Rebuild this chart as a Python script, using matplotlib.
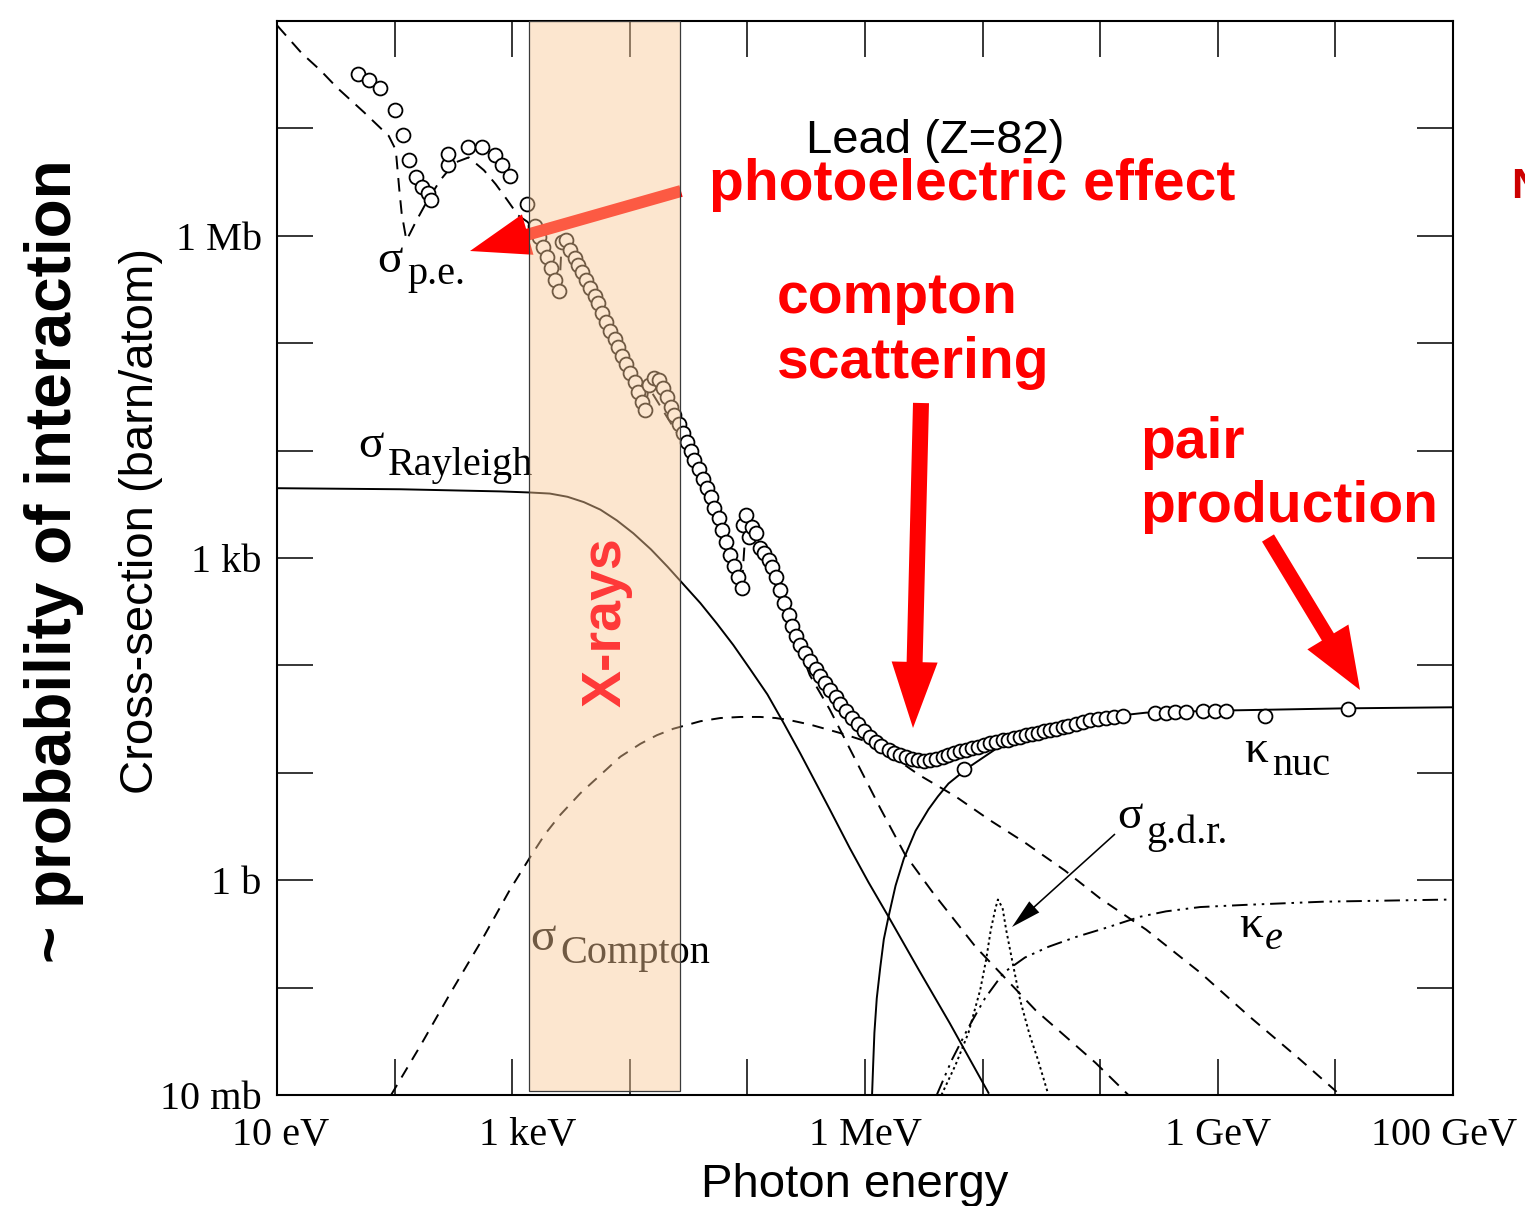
import matplotlib
matplotlib.use("Agg")
import matplotlib.pyplot as plt
import numpy as np
from matplotlib.patches import FancyArrow, Rectangle
from matplotlib.transforms import Affine2D, ScaledTranslation

# ---------------- data (log10 units) ----------------
# photon energy: log10(E / eV); cross-section: log10(sigma / barn)
total_logE = [1.69, 1.78, 1.88, 2.00, 2.07, 2.12, 2.18, 2.23, 2.28, 2.31,
              2.45, 2.45, 2.62, 2.74, 2.85, 2.91, 2.98, 3.13,
              3.19, 3.23, 3.26, 3.30, 3.33, 3.36, 3.40, 3.42, 3.46, 3.49, 3.53, 3.56,
              3.59, 3.63, 3.66, 3.70, 3.73, 3.76, 3.80, 3.83, 3.87, 3.90, 3.93, 3.97,
              4.00, 4.04, 4.07, 4.10, 4.13,
              4.16, 4.21, 4.25, 4.28, 4.32, 4.35, 4.38, 4.42, 4.45, 4.49, 4.52, 4.55,
              4.59, 4.62, 4.66, 4.69, 4.72, 4.76, 4.78, 4.82, 4.85, 4.89, 4.92, 4.95,
              4.96, 4.99, 5.01, 5.04, 5.07, 5.11, 5.14, 5.18, 5.21, 5.24,
              5.28, 5.31, 5.35, 5.38, 5.41, 5.45, 5.49, 5.53, 5.58, 5.62,
              5.66, 5.70, 5.75, 5.79, 5.84, 5.89, 5.94, 5.99, 6.04, 6.09,
              6.14, 6.20, 6.25, 6.30, 6.35, 6.40, 6.45, 6.50, 6.55, 6.60,
              6.66, 6.71, 6.76, 6.81, 6.84, 6.86, 6.91, 6.96, 7.01, 7.06,
              7.11, 7.17, 7.22, 7.27, 7.32, 7.37, 7.42, 7.47, 7.52, 7.57,
              7.62, 7.68, 7.73, 7.79, 7.85, 7.91, 7.98, 8.05, 8.12, 8.19,
              8.47, 8.56, 8.64, 8.73, 8.87, 8.98, 9.07, 9.40, 10.11]
total_logS = [7.51, 7.45, 7.38, 7.17, 6.94, 6.71, 6.55, 6.45, 6.40, 6.33,
              6.66, 6.76, 6.83, 6.83, 6.75, 6.66, 6.56, 6.30,
              6.09, 5.99, 5.90, 5.80, 5.70, 5.59, 5.49, 5.94, 5.96, 5.87, 5.79, 5.73,
              5.66, 5.59, 5.51, 5.44, 5.37, 5.28, 5.20, 5.11, 5.04, 4.96, 4.88, 4.81,
              4.72, 4.64, 4.55, 4.45, 4.38,
              4.61, 4.68, 4.66, 4.58, 4.50, 4.41, 4.33, 4.25, 4.16, 4.08, 4.00, 3.91,
              3.83, 3.74, 3.65, 3.57, 3.47, 3.37, 3.26, 3.15, 3.03, 2.93, 2.82, 2.72,
              3.31, 3.40, 3.20, 3.29, 3.23, 3.09, 3.05, 2.98, 2.92, 2.82,
              2.70, 2.58, 2.47, 2.37, 2.27, 2.19, 2.12, 2.04, 1.97, 1.90,
              1.84, 1.77, 1.71, 1.64, 1.58, 1.51, 1.45, 1.39, 1.33, 1.29,
              1.25, 1.21, 1.18, 1.17, 1.15, 1.13, 1.12, 1.11, 1.12, 1.13,
              1.15, 1.17, 1.18, 1.20, 1.04, 1.21, 1.23, 1.24, 1.26, 1.28,
              1.29, 1.31, 1.31, 1.32, 1.33, 1.35, 1.36, 1.37, 1.39, 1.40,
              1.41, 1.43, 1.44, 1.45, 1.47, 1.49, 1.50, 1.51, 1.52, 1.53,
              1.56, 1.56, 1.57, 1.57, 1.58, 1.58, 1.58, 1.53, 1.59]

pe_logE = [1.00, 1.21, 1.37, 1.51, 1.74, 1.95, 2.01, 2.04, 2.06, 2.10,
           2.13, 2.18, 2.28, 2.39, 2.51, 2.63, 2.76, 2.86, 2.96, 3.05,
           3.13, 3.19, 3.40, 3.42, 3.76, 4.13, 4.16, 4.60, 4.95, 4.99, 5.28,
           5.53, 5.70, 5.91, 6.13, 6.34, 6.58, 6.94, 7.45, 7.96, 8.24]
pe_logS = [7.96, 7.70, 7.54, 7.38, 7.15, 6.93, 6.80, 6.43, 6.21, 5.96,
           6.02, 6.13, 6.33, 6.52, 6.68, 6.73, 6.61, 6.48, 6.33, 6.19,
           6.13, 6.05, 5.47, 5.92, 5.26, 4.36, 4.59, 3.81, 2.70, 3.36, 2.65,
           1.91, 1.59, 1.14, 0.67, 0.24, -0.12, -0.62, -1.21, -1.70, -2.00]

compton_logE = [1.97, 2.22, 2.47, 2.73, 2.98, 3.15, 3.28, 3.41, 3.58, 3.75, 3.92, 4.09,
                4.23, 4.37, 4.60, 4.77, 4.94, 5.11, 5.24, 5.36, 5.53, 5.66, 5.79, 5.99,
                6.21, 6.46, 6.77, 7.06, 7.36, 7.70, 8.00, 8.39, 8.85, 9.27, 9.70, 10.01]
compton_logS = [-2.00, -1.54, -1.06, -0.58, -0.09, 0.21, 0.43, 0.61, 0.81, 0.98, 1.15, 1.27,
                 1.35, 1.41, 1.48, 1.51, 1.52, 1.52, 1.51, 1.49, 1.45, 1.41, 1.37, 1.30,
                 1.17, 0.98, 0.78, 0.56, 0.35, 0.09, -0.17, -0.46, -0.86, -1.27, -1.67, -1.97]

rayleigh_logE = [1.00, 2.05, 2.90, 3.15, 3.32, 3.47, 3.61, 3.75, 3.89, 4.03, 4.18,
                 4.32, 4.46, 4.60, 4.74, 4.88, 5.02, 5.17, 5.31, 5.45, 5.58, 5.70,
                 5.87, 6.03, 6.20, 6.46, 6.72, 7.05]
rayleigh_logS = [3.65, 3.64, 3.62, 3.61, 3.60, 3.57, 3.52, 3.45, 3.35, 3.23, 3.08,
                 2.92, 2.75, 2.58, 2.39, 2.19, 1.97, 1.73, 1.46, 1.18, 0.91, 0.66,
                 0.30, -0.02, -0.34, -0.84, -1.33, -1.98]

knuc_logE = [6.06, 6.07, 6.08, 6.10, 6.13, 6.16, 6.20, 6.26, 6.33, 6.43, 6.54, 6.62,
             6.71, 6.88, 7.11, 7.39, 7.72, 8.06, 8.39, 9.06, 10.07, 11.00]
knuc_logS = [-2.00, -1.70, -1.42, -1.10, -0.81, -0.55, -0.34, -0.05, 0.20, 0.46, 0.66, 0.78,
             0.90, 1.05, 1.22, 1.35, 1.45, 1.52, 1.56, 1.58, 1.60, 1.61]

ke_logE = [6.61, 6.74, 6.88, 7.02, 7.18, 7.36, 7.56, 7.79, 8.06, 8.34,
           8.56, 8.85, 9.23, 9.90, 10.98]
ke_logS = [-2.00, -1.67, -1.37, -1.10, -0.86, -0.72, -0.62, -0.53, -0.44, -0.34,
           -0.29, -0.25, -0.23, -0.20, -0.18]

gdr_logE = [6.65, 6.77, 6.88, 6.98, 7.03, 7.07, 7.11, 7.13, 7.17, 7.20,
            7.25, 7.32, 7.40, 7.47, 7.56]
gdr_logS = [-2.00, -1.72, -1.42, -1.02, -0.74, -0.46, -0.26, -0.18, -0.26, -0.46,
            -0.74, -1.12, -1.44, -1.67, -2.00]

xray_band_eV = [1.39e3, 2.67e4]

xtick_E = [1e1, 1e3, 1e6, 1e9, 1e11]
xtick_labels = ['10 eV', '1 keV', '1 MeV', '1 GeV', '100 GeV']
ytick_S = [1e-2, 1e0, 1e3, 1e6]
ytick_labels = ['10 mb', '1 b', '1 kb', '1 Mb']

# ---------------- figure ----------------
W, H = 1525, 1206
fig = plt.figure(figsize=(W / 100, H / 100), dpi=100)
fig.patch.set_facecolor('white')
ax = fig.add_axes([277 / W, 1 - 1095 / H, 1176 / W, 1074 / H])
ax.set_xscale('log')
ax.set_yscale('log')
ax.set_xlim(1e1, 1e11)
ax.set_ylim(1e-2, 1e8)

# image-pixel coordinates (origin top-left) for annotations
PX = Affine2D().scale(1, -1).translate(0, H)


def pw(a):
    return 10.0 ** np.asarray(a, dtype=float)


LW = 1.4
ax.plot(pw(pe_logE), pw(pe_logS), color='black', lw=LW, ls=(0, (7, 4.5)), zorder=2)
ax.plot(pw(compton_logE), pw(compton_logS), color='black', lw=LW, ls=(0, (6, 4.5)), zorder=2)
ax.plot(pw(rayleigh_logE), pw(rayleigh_logS), color='black', lw=LW, ls='-', zorder=2)
ax.plot(pw(knuc_logE), pw(knuc_logS), color='black', lw=LW, ls='-', zorder=2)
ax.plot(pw(ke_logE), pw(ke_logS), color='black', lw=LW,
        ls=(0, (8, 3, 1.3, 3, 1.3, 3)), zorder=2)
ax.plot(pw(gdr_logE), pw(gdr_logS), color='black', lw=LW, ls=(0, (1.3, 1.6)), zorder=2)
ax.plot(pw(total_logE), pw(total_logS), ls='none', marker='o', ms=10,
        mfc='white', mec='black', mew=1.3, zorder=3)

# X-ray band (semi-transparent, on top of curves)
band_bottom = 1.09e-2
ax.add_patch(Rectangle((xray_band_eV[0], band_bottom), xray_band_eV[1] - xray_band_eV[0], 1e8,
                       facecolor='#fac896', alpha=0.45, edgecolor='none', zorder=4))
ax.add_patch(Rectangle((xray_band_eV[0], band_bottom), xray_band_eV[1] - xray_band_eV[0], 1e8,
                       fill=False, edgecolor='#3a3a3a', lw=0.9, zorder=4.1))

# ticks
decE = 10.0 ** np.arange(1, 12)
decS = 10.0 ** np.arange(-2, 9)
ax.set_xticks(decE, labels=[''] * len(decE))
ylabs = []
for v in decS:
    m = [l for s, l in zip(ytick_S, ytick_labels) if np.isclose(s, v)]
    ylabs.append(m[0] if m else '')
ax.set_yticks(decS, labels=ylabs)
ax.minorticks_off()
ax.tick_params(which='major', direction='in', length=26, width=1.1, top=True, right=True,
               labelsize=29, pad=11, labelfontfamily='Liberation Serif')
for sp in ax.spines.values():
    sp.set_linewidth(1.5)

nudge = {'1 keV': 15, '100 GeV': -9, '10 eV': 4}
for E, lab in zip(xtick_E, xtick_labels):
    tr = ax.get_xaxis_transform() + ScaledTranslation(nudge.get(lab, 0) / 100, -50 / 100,
                                                      fig.dpi_scale_trans)
    ax.text(E, 0, lab, transform=tr, ha='center', va='baseline', fontsize=29,
            family='Liberation Serif')

# curve labels (serif)
def clab(xp, yp, s, size, **kw):
    ax.text(xp, yp, s, transform=PX, fontsize=size, family='Liberation Serif',
            va='baseline', ha='left', zorder=2.5, **kw)

clab(377, 272, 'σ', 34); clab(407, 284, 'p.e.', 29)
clab(358, 457, 'σ', 34); clab(388, 475, 'Rayleigh', 29)
clab(530, 950, 'σ', 34); clab(560, 963, 'Compton', 29)
clab(1244, 762, 'κ', 34); clab(1272, 775, 'nuc', 29)
clab(1117, 828, 'σ', 34); clab(1146, 843, 'g.d.r.', 29)
clab(1239, 937, 'κ', 34); clab(1265, 949, 'e', 29, style='italic')

# arrows
ax.add_patch(FancyArrow(1115, 834, -103, 93, width=1.6, head_width=15, head_length=30,
                        length_includes_head=True, color='black', lw=0,
                        transform=PX, zorder=3, clip_on=False))
ax.add_patch(FancyArrow(681, 191, -211, 60, width=12, head_width=42, head_length=60,
                        length_includes_head=True, color='red', lw=0,
                        transform=PX, zorder=3.5, clip_on=False))
ax.add_patch(FancyArrow(921, 403, -8, 325, width=16, head_width=46, head_length=66,
                        length_includes_head=True, color='red', lw=0,
                        transform=PX, zorder=5, clip_on=False))
ax.add_patch(FancyArrow(1268, 538, 92, 152, width=14, head_width=48, head_length=62,
                        length_includes_head=True, color='red', lw=0,
                        transform=PX, zorder=5, clip_on=False))

# annotation texts (sans)
def stxt(xp, yp, s, size, color='black', weight='normal', **kw):
    kw.setdefault('ha', 'left')
    ax.text(xp, yp, s, transform=PX, fontsize=size, color=color, fontweight=weight,
            family='Liberation Sans', va='baseline', zorder=6, **kw)

stxt(806, 153, 'Lead (Z=82)', 34)
stxt(709, 200, 'photoelectric effect', 41, 'red', 'bold')
stxt(777, 313, 'compton', 41, 'red', 'bold')
stxt(777, 378, 'scattering', 41, 'red', 'bold')
stxt(1140, 458, 'pair', 41, 'red', 'bold')
stxt(1140, 522, 'production', 41, 'red', 'bold')
stxt(1511, 198, 'N', 31, '#cc0000', 'bold')
stxt(621, 622, 'X-rays', 40, '#ff3838', 'bold', rotation=90, rotation_mode='anchor', ha='center')
stxt(71, 561, '~ probability of interaction', 46, 'black', 'bold', rotation=90,
     rotation_mode='anchor', ha='center')
stxt(153, 521, 'Cross-section (barn/atom)', 34, rotation=90, rotation_mode='anchor', ha='center')
stxt(855, 1197, 'Photon energy', 34, ha='center')

fig.savefig('out.png', dpi=100, facecolor='white')
